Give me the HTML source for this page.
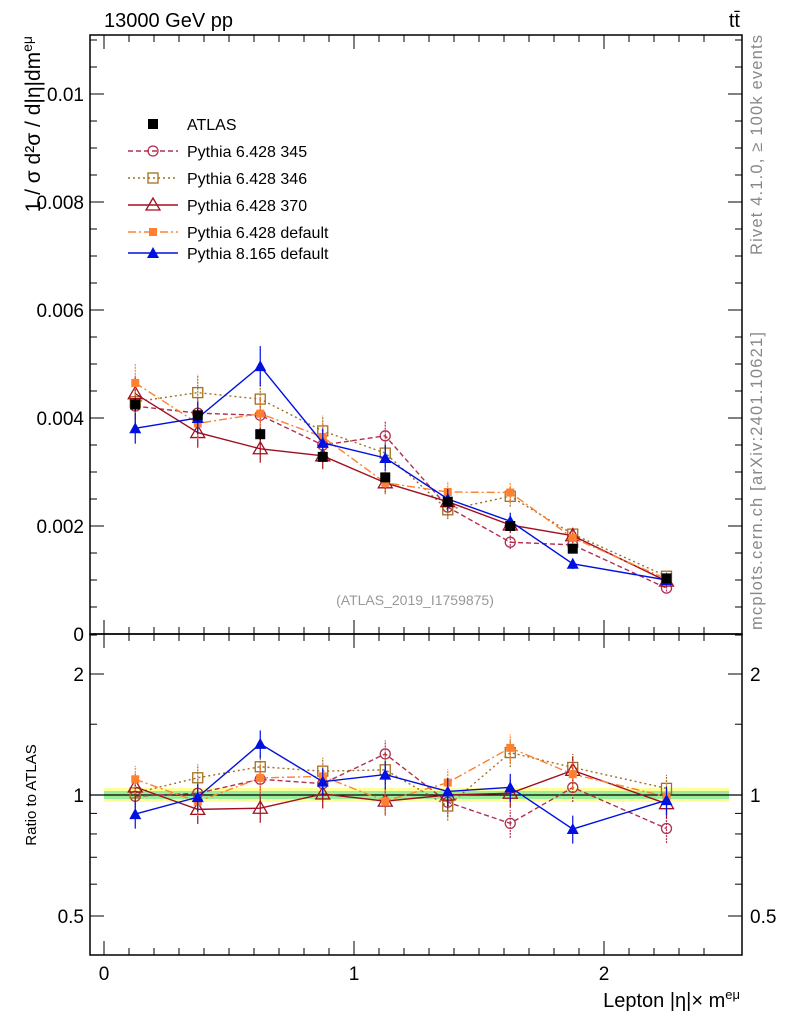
<!DOCTYPE html>
<html><head><meta charset="utf-8"><style>
body{margin:0;background:#fff;}
svg{font-family:"Liberation Sans",sans-serif;}
</style></head><body>
<svg id="c" width="786" height="1024" xmlns="http://www.w3.org/2000/svg">
<text x="104" y="27" font-size="20">13000 GeV pp</text>
<text x="740" y="27" font-size="20" text-anchor="end">tt̄</text>
<text transform="translate(762,35) rotate(-90)" font-size="16.5" fill="#888" text-anchor="end" textLength="220">Rivet 4.1.0, ≥ 100k events</text>
<text transform="translate(762,630) rotate(-90)" font-size="16.5" fill="#888" textLength="298">mcplots.cern.ch [arXiv:2401.10621]</text>
<text transform="translate(40,36) rotate(-90)" font-size="21" text-anchor="end">1 / σ  d²σ / d|η|dm<tspan font-size="14" dy="-8">eμ</tspan></text>
<text transform="translate(36,795) rotate(-90)" font-size="15" text-anchor="middle">Ratio to ATLAS</text>
<text x="740" y="1007" font-size="20" text-anchor="end">Lepton |η|× m<tspan font-size="13" dy="-8">eμ</tspan></text>
<text x="415" y="605" font-size="14" fill="#999" text-anchor="middle">(ATLAS_2019_I1759875)</text>
<g id="g"></g>
</svg>
<script>
const xCenters=[0.125,0.375,0.625,0.875,1.125,1.375,1.625,1.875,2.25];
const atlas=[4.25,4.05,3.70,3.28,2.90,2.45,2.00,1.58,1.03];
const p345=[4.22,4.09,4.05,3.50,3.67,2.35,1.70,1.65,0.85];
const p346=[4.30,4.47,4.35,3.76,3.35,2.30,2.55,1.85,1.07];
const p370=[4.45,3.73,3.43,3.30,2.80,2.45,2.02,1.82,0.98];
const p6def=[4.65,3.90,4.08,3.65,2.80,2.63,2.62,1.78,1.02];
const p8def=[3.81,4.00,4.96,3.54,3.26,2.50,2.09,1.30,1.00];
const yTicks=[0,0.002,0.004,0.006,0.008,0.01];
const yTickLabels=["0","0.002","0.004","0.006","0.008","0.01"];
const xTicks=[0,1,2];
const rTicks=[0.5,1,2];
const NS="http://www.w3.org/2000/svg";
const g=document.getElementById('g');
const X=v=>104+250*v;
const Y=v=>634-54*v;
const R=r=>795-121*Math.log2(r);
function el(t,a,p){const e=document.createElementNS(NS,t);for(const k in a)e.setAttribute(k,a[k]);(p||g).appendChild(e);return e;}
let b=el('rect',{x:104,y:788,width:625,height:14,fill:'#ffff99'});


b=el('rect',{x:104,y:791,width:625,height:8,fill:'#99ee99'});


let f=el('rect',{x:90,y:35,width:652,height:599,fill:'none',stroke:'#000','stroke-width':1.5});


f=el('rect',{x:90,y:634,width:652,height:321,fill:'none',stroke:'#000','stroke-width':1.5});


el('line',{x1:90,x2:742,y1:R(1),y2:R(1),stroke:'#000','stroke-width':1.2});
yTicks.forEach((v,i)=>{
  el('line',{x1:90,x2:104,y1:Y(v*1000),y2:Y(v*1000),stroke:'#000'});
  el('line',{x1:728,x2:742,y1:Y(v*1000),y2:Y(v*1000),stroke:'#000'});
  const t=el('text',{x:84,y:Y(v*1000)+7,'font-size':19,'text-anchor':'end'});t.textContent=yTickLabels[i];
  
  
});
for(let v=0;v<=11;v+=0.5){el('line',{x1:90,x2:97,y1:Y(v),y2:Y(v),stroke:'#000'});el('line',{x1:735,x2:742,y1:Y(v),y2:Y(v),stroke:'#000'});}
xTicks.forEach(v=>{
  [[634,620],[634,648],[955,941],[35,49]].forEach(([a,c])=>el('line',{x1:X(v),x2:X(v),y1:a,y2:c,stroke:'#000'}));
  const t=el('text',{x:X(v),y:980,'font-size':19,'text-anchor':'middle'});t.textContent=v;
  
  
});
for(let v=0;v<=2.5;v+=0.1){[[634,627],[634,641],[955,948],[35,42]].forEach(([a,c])=>el('line',{x1:X(v),x2:X(v),y1:a,y2:c,stroke:'#000'}));}
rTicks.forEach(v=>{
  el('line',{x1:90,x2:104,y1:R(v),y2:R(v),stroke:'#000'});el('line',{x1:728,x2:742,y1:R(v),y2:R(v),stroke:'#000'});
  const t=el('text',{x:84,y:R(v)+7,'font-size':19,'text-anchor':'end'});t.textContent=v;
  
  
  const t2=el('text',{x:750,y:R(v)+7,'font-size':19});t2.textContent=v;
  
  
});
[0.6,0.7,0.8,0.9,1.5,2.5].forEach(v=>{el('line',{x1:90,x2:97,y1:R(v),y2:R(v),stroke:'#000'});el('line',{x1:735,x2:742,y1:R(v),y2:R(v),stroke:'#000'});});
function marker(type,x,y,col,p){
  if(type==='sq')return el('rect',{x:x-5,y:y-5,width:10,height:10,fill:col},p);
  if(type==='osq')return el('rect',{x:x-5,y:y-5,width:10,height:10,fill:'none',stroke:col,'stroke-width':1.3},p);
  if(type==='oc')return el('circle',{cx:x,cy:y,r:5,fill:'none',stroke:col,'stroke-width':1.3},p);
  if(type==='otri')return el('polygon',{points:`${x},${y-7} ${x-7},${y+5} ${x+7},${y+5}`,fill:'none',stroke:col,'stroke-width':1.3},p);
  if(type==='tri')return el('polygon',{points:`${x},${y-6} ${x-6},${y+5} ${x+6},${y+5}`,fill:col},p);
  if(type==='fsq')return el('rect',{x:x-4,y:y-4,width:8,height:8,fill:col},p);
}
const series=[
 {n:'pythia-6428-345',d:p345,c:'#b03050',dash:'5,3',m:'oc',lab:'Pythia 6.428 345'},
 {n:'pythia-6428-346',d:p346,c:'#a07020',dash:'2,3',m:'osq',lab:'Pythia 6.428 346'},
 {n:'pythia-6428-370',d:p370,c:'#a01020',dash:'',m:'otri',lab:'Pythia 6.428 370'},
 {n:'pythia-6428-default',d:p6def,c:'#ff8030',dash:'8,3,2,3',m:'fsq',lab:'Pythia 6.428 default'},
 {n:'pythia-8165-default',d:p8def,c:'#0010e0',dash:'',m:'tri',lab:'Pythia 8.165 default'}];
series.forEach(s=>{
  const grp=el('g',{});
  const gr=el('g',{});
  el('polyline',{points:s.d.map((v,i)=>X(xCenters[i])+','+Y(v)).join(' '),fill:'none',stroke:s.c,'stroke-width':1.4,'stroke-dasharray':s.dash},grp);
  el('polyline',{points:s.d.map((v,i)=>X(xCenters[i])+','+R(v/atlas[i])).join(' '),fill:'none',stroke:s.c,'stroke-width':1.4,'stroke-dasharray':s.dash},gr);
  s.d.forEach((v,i)=>{
    const x=X(xCenters[i]),e=v*0.075;
    el('line',{x1:x,x2:x,y1:Y(v-e),y2:Y(v+e),stroke:s.c,'stroke-width':1.2,'stroke-dasharray':s.dash?'2,1':''},grp);
    const m=marker(s.m,x,Y(v),s.c,grp);
    const r=v/atlas[i];
    el('line',{x1:x,x2:x,y1:R(r*0.92),y2:R(r*1.08),stroke:s.c,'stroke-width':1.2,'stroke-dasharray':s.dash?'2,1':''},gr);
    const m2=marker(s.m,x,R(r),s.c,gr);
  });
});
atlas.forEach((v,i)=>{
  const x=X(xCenters[i]);
  el('line',{x1:x,x2:x,y1:Y(v*0.97),y2:Y(v*1.03),stroke:'#000'});
  const m=marker('sq',x,Y(v),'#000');
});
const lg=el('g',{});
let e=el('g',{},lg);
marker('sq',153,124,'#000',e);
let t=el('text',{x:187,y:130,'font-size':16},e);t.textContent='ATLAS';
const legY=[151,178,205,232,253];
series.forEach((s,i)=>{
  const y=legY[i];
  const le=el('g',{},lg);
  el('line',{x1:128,x2:178,y1:y,y2:y,stroke:s.c,'stroke-width':1.4,'stroke-dasharray':s.dash},le);
  marker(s.m,153,y,s.c,le);
  const tt=el('text',{x:187,y:y+6,'font-size':16},le);tt.textContent=s.lab;
});
</script>
</body></html>
